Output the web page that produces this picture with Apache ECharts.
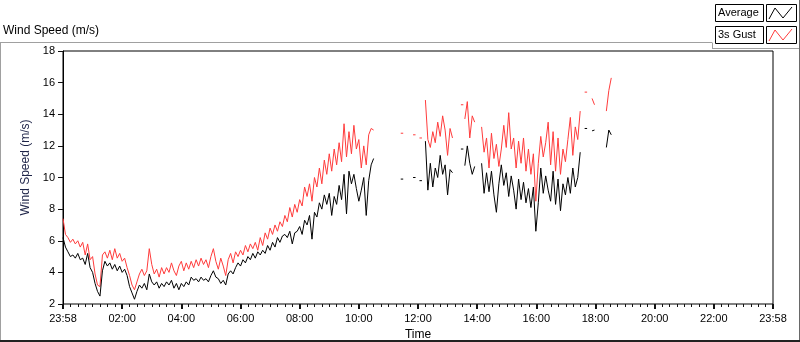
<!DOCTYPE html>
<html>
<head>
<meta charset="utf-8">
<script src="https://cdn.jsdelivr.net/npm/echarts@6/dist/echarts.min.js"></script>
<style>
    html, body { margin: 0; padding: 0; background: #fff; }
    #main { width: 800px; height: 342px; }
</style>
</head>
<body>
<div id="main"></div>
<script>
// minutes after midnight where each run of samples starts (-2 = 23:58 the evening before)
var runStart = [-2, 683, 708, 721, 733, 805, 813, 847, 1056, 1071, 1100];
var stepMin = 5;

// 10 min average wind speed (m/s), one list per run
var avgRuns = [
    [6.2,5.6,5.3,5.0,5.1,4.9,5.2,4.8,4.9,4.5,
     5.2,4.3,4.0,3.3,2.8,2.5,4.1,4.7,4.4,4.6,
     4.2,4.5,4.1,4.4,4.0,4.2,3.8,3.1,2.7,2.3,
     2.8,3.2,3.0,3.3,2.9,3.9,3.4,3.2,3.4,3.0,
     3.3,3.1,3.4,3.2,3.5,3.0,3.3,2.9,3.3,3.1,
     3.4,3.2,3.7,3.5,3.6,3.4,3.7,3.5,3.6,3.4,
     3.8,4.1,3.7,3.6,3.3,3.5,3.2,3.9,4.1,3.9,
     4.3,4.6,4.4,4.8,4.6,5.0,4.8,5.2,4.9,5.3,
     5.1,5.4,5.2,5.7,5.4,5.9,5.6,6.2,5.9,6.3,
     6.4,6.2,6.6,5.8,6.5,6.6,6.9,6.4,7.3,7.0,
     7.6,6.1,7.8,7.5,8.4,8.0,8.9,8.3,9.0,7.6,
     8.8,8.3,9.5,8.6,10.2,7.7,10.4,9.6,10.2,9.3,
     8.5,9.2,10.0,7.6,9.8,10.8,11.2],
    [9.9, 9.9],
    [10.0, 10.0],
    [9.8, 9.8],
    [12.3,9.2,10.9,9.4,10.6,10.0,11.4,10.2,10.8,8.9,10.5,10.3],
    [11.8, 11.8],
    [10.75,12.0,10.9,10.2,10.7],
    [10.9,9.0,10.3,9.1,10.4,8.9,7.8,9.6,10.8,9.5,
     10.3,8.8,10.1,9.2,8.0,9.9,8.6,9.7,8.4,9.3,
     8.1,9.4,6.6,8.4,10.6,9.0,10.1,9.2,8.5,10.4,
     8.3,9.9,7.9,9.6,8.9,10.0,9.0,10.6,9.4,10.0,
     11.6],
    [13.1, 13.1],
    [12.95, 13.0],
    [11.9, 13.0, 12.7]
];

// 3 second gust (m/s)
var gustRuns = [
    [7.4,6.4,6.2,5.9,6.1,5.8,6.0,5.6,5.9,5.1,
     5.8,4.8,5.0,3.9,3.2,3.1,5.1,5.3,4.9,5.4,
     4.8,5.5,4.9,5.2,4.7,4.9,4.3,3.8,3.2,2.9,
     3.4,3.9,4.2,3.8,4.1,5.5,4.5,3.9,4.2,3.7,
     4.3,3.9,4.3,4.0,4.6,4.1,3.8,4.4,4.7,4.1,
     4.6,4.2,4.7,4.3,4.8,4.4,4.9,4.5,4.8,4.3,
     5.0,5.5,4.7,4.2,4.9,4.4,3.8,4.8,5.2,4.6,
     5.3,5.0,5.4,5.1,5.7,5.3,5.8,5.5,5.9,5.4,
     6.2,5.7,6.5,6.1,6.8,6.4,7.0,6.6,7.2,6.9,
     7.6,7.2,8.1,7.5,8.3,7.8,8.6,8.2,9.4,8.8,
     9.6,8.5,10.0,9.4,10.6,9.6,11.1,10.2,11.5,10.4,
     11.8,10.8,12.2,11.0,13.4,11.3,12.9,11.5,13.3,11.8,
     12.4,10.6,12.0,10.8,12.7,13.1,13.0],
    [12.8, 12.8],
    [12.7, 12.7],
    [12.5, 12.5],
    [14.9,12.4,11.9,12.9,12.2,13.5,12.6,13.9,13.0,11.4,13.1,12.5],
    [14.6, 14.6],
    [13.7,14.8,12.5,13.9,13.5],
    [13.2,11.6,12.5,10.6,12.8,11.2,12.1,10.7,11.8,13.3,
     11.9,14.1,11.8,12.5,10.6,12.3,10.9,12.5,10.4,11.8,
     10.2,11.5,8.5,10.9,12.6,11.3,12.2,13.5,10.8,12.9,
     10.4,12.5,10.2,11.8,11.0,12.4,13.8,11.4,13.2,12.4,
     14.2],
    [15.4, 15.4],
    [15.0, 14.6],
    [14.2, 15.5, 16.3]
];

// time axis: 23:58 -> 23:58, labelled every 2 h, small ticks every 15 min
var xMin = -2, xMax = 1438;
var xMajor = 120, xMinorSplit = 8;

var avgColor = '#000000';
var gustColor = '#ff3b3b';
var font = 'Liberation Sans';

function toData(runs) {
    var out = [];
    for (var r = 0; r < runs.length; r++) {
        for (var k = 0; k < runs[r].length; k++) {
            out.push([runStart[r] + k * stepMin, runs[r][k]]);
        }
        // break the line between runs
        out.push([runStart[r] + (runs[r].length - 1) * stepMin + 1, null]);
    }
    return out;
}

function timeLabel(v) {
    if (v <= xMin || v >= xMax) return '23:58';
    var h = Math.round((v - xMin) / 60);
    return (h < 10 ? '0' : '') + h + ':00';
}

// legend box frames + line swatches (labels are title entries below)
function legendBox(y, color) {
    return {
        type: 'group',
        children: [
            { type: 'rect', shape: { x: 715.5, y: y + 0.5, width: 48, height: 17 },
              style: { fill: 'transparent', stroke: '#000', lineWidth: 1 } },
            { type: 'rect', shape: { x: 766.5, y: y + 0.5, width: 30, height: 17 },
              style: { fill: 'transparent', stroke: '#000', lineWidth: 1 } },
            { type: 'polyline', shape: { points: [[769, y + 15], [775, y + 4], [783, y + 14], [792, y + 3]] },
              style: { stroke: color, lineWidth: 1, fill: null } }
        ]
    };
}

function legendLabel(y, label) {
    return {
        text: label, left: 718, top: y + 3, padding: 0,
        textStyle: { fontSize: 11, fontWeight: 'normal', fontFamily: font, color: '#000' }
    };
}

var myChart = echarts.init(document.getElementById('main'));
myChart.setOption({
    animation: false,
    title: [{
        text: 'Wind Speed (m/s)',
        left: 3,
        top: 25,
        padding: 0,
        textStyle: { fontSize: 12, fontWeight: 'normal', fontFamily: font, color: '#000' }
    }, legendLabel(4, 'Average'), legendLabel(26, '3s Gust')],
    grid: {
        left: 63, right: 27, top: 51, bottom: 38,
        show: true, borderColor: '#000', borderWidth: 1,
        containLabel: false, outerBoundsMode: 'none'
    },
    xAxis: {
        type: 'value',
        min: xMin, max: xMax, interval: xMajor,
        position: 'bottom',
        name: 'Time',
        nameLocation: 'middle',
        nameGap: 24,
        nameTextStyle: { fontSize: 12, fontFamily: font, color: '#000' },
        axisLine: { onZero: false, lineStyle: { color: '#808080', width: 1 } },
        axisTick: { show: true, length: 5, lineStyle: { color: '#111', width: 2 } },
        minorTick: { show: true, splitNumber: xMinorSplit, length: 3, lineStyle: { color: '#111', width: 1 } },
        axisLabel: { formatter: timeLabel, margin: 9, fontSize: 11, fontFamily: font, color: '#000' },
        splitLine: { show: false }
    },
    yAxis: {
        type: 'value',
        min: 2, max: 18, interval: 2,
        name: 'Wind Speed (m/s)',
        nameLocation: 'middle',
        nameRotate: 90,
        nameGap: 24,
        nameTextStyle: { fontSize: 12, fontFamily: font, color: '#1e2448', padding: [0, 0, 0, 20] },
        axisLine: { show: true, onZero: false, lineStyle: { color: '#000', width: 1 } },
        axisTick: { show: true, length: 5, lineStyle: { color: '#111' } },
        axisLabel: { margin: 8, fontSize: 11, fontFamily: font, color: '#000' },
        splitLine: { show: false }
    },
    series: [{
        name: '3s Gust',
        type: 'line',
        data: toData(gustRuns),
        showSymbol: false,
        symbol: 'none',
        connectNulls: false,
        silent: true,
        lineStyle: { color: gustColor, width: 1 }
    }, {
        name: 'Average',
        type: 'line',
        data: toData(avgRuns),
        showSymbol: false,
        symbol: 'none',
        connectNulls: false,
        silent: true,
        lineStyle: { color: avgColor, width: 1 }
    }],
    graphic: [
        { type: 'line', shape: { x1: 0, y1: 42.5, x2: 712, y2: 42.5 }, style: { stroke: '#a0a0a0', lineWidth: 1 } },
        { type: 'line', shape: { x1: 712.5, y1: 42.5, x2: 712.5, y2: 48.5 }, style: { stroke: '#a0a0a0', lineWidth: 1 } },
        { type: 'line', shape: { x1: 712, y1: 48.5, x2: 800, y2: 48.5 }, style: { stroke: '#a0a0a0', lineWidth: 1 } },
        { type: 'line', shape: { x1: 0.5, y1: 42, x2: 0.5, y2: 342 }, style: { stroke: '#a0a0a0', lineWidth: 1 } },
        { type: 'line', shape: { x1: 799.5, y1: 0, x2: 799.5, y2: 342 }, style: { stroke: '#696969', lineWidth: 1 } },
        { type: 'line', shape: { x1: 0, y1: 341, x2: 800, y2: 341 }, style: { stroke: '#222', lineWidth: 2 } },
        legendBox(4, avgColor),
        legendBox(26, gustColor)
    ]
});
</script>
</body>
</html>
